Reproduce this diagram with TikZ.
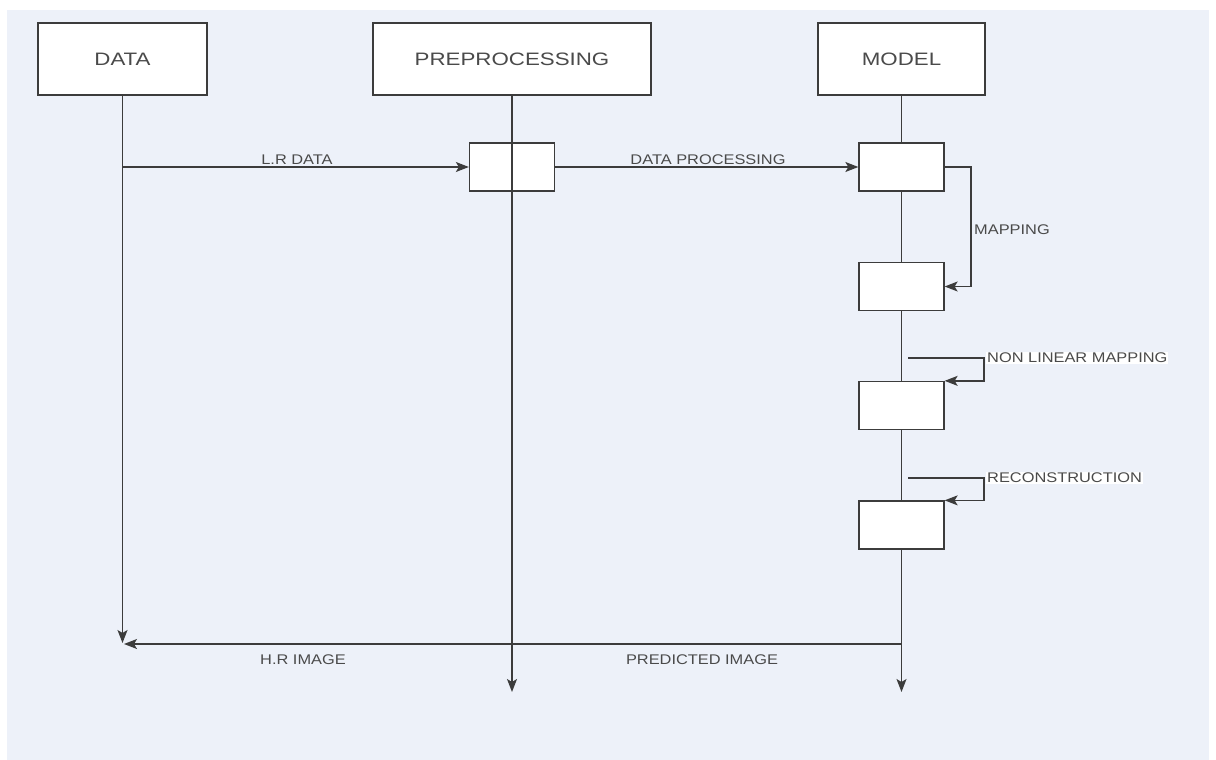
\documentclass[tikz,border=0pt]{standalone}
\usepackage{fontspec}
\setmainfont{Liberation Sans}
\newfontfamily\lblfont[FakeStretch=1.17]{Liberation Sans}
\newfontfamily\boxfont[FakeStretch=1.24]{Liberation Sans}
\usetikzlibrary{arrows.meta}
\definecolor{bgcol}{HTML}{EDF1F9}
\definecolor{linecol}{HTML}{3C3C3C}
\definecolor{txtcol}{HTML}{4A4A4A}
\tikzset{
  head/.style={draw=linecol, line width=1.3pt, fill=white, minimum width=169pt, minimum height=72pt, inner sep=0pt, font=\boxfont\fontsize{18}{20}\selectfont, text=txtcol},
  act/.style={draw=linecol, line width=1.3pt, fill=white, minimum width=85pt, minimum height=48pt, inner sep=0pt},
  conn/.style={draw=linecol, line width=1.3pt},
  arr/.style={conn, -{Stealth[length=13pt,width=10pt,inset=3pt]}},
  lbl/.style={font=\lblfont\fontsize{14}{16}\selectfont, text=txtcol, inner sep=1pt},
}
\begin{document}
\begin{tikzpicture}[x=1pt,y=-1pt]
\useasboundingbox (0,0) rectangle (1216,760);
\fill[white] (0,0) rectangle (1216,760);
\fill[bgcol] (7,10) rectangle (1209,760);

% headers
\node[head] (data) at (122.5,59) {DATA};
\node[head, minimum width=278pt] (pre) at (512,59) {PREPROCESSING};
\node[head, minimum width=167pt] (model) at (901.5,59) {MODEL};

% end points of lifelines
\coordinate (dataEnd) at (122.5,643);
\coordinate (preEnd) at (512,692);
\coordinate (modelEnd) at (901.5,692);

% model lifeline (behind activation boxes)
\draw[arr] (model.south) -- (modelEnd);

% preprocessing activation (lifeline drawn over it)
\node[act] (pbox) at (512,167) {};
\draw[arr] (pre.south) -- (preEnd);

% model activations
\node[act] (m1) at (901.5,167) {};
\node[act] (m2) at (901.5,286.5) {};
\node[act] (m3) at (901.5,405.5) {};
\node[act] (m4) at (901.5,525) {};

% data lifeline
\draw[arr] (data.south) -- (dataEnd);

% messages
\coordinate (lrS) at (122.5,167);
\draw[arr] (lrS) -- (pbox.west);
\node[lbl] (lrL) at (297,160) {L.R DATA};

\draw[arr] (pbox.east) -- (m1.west);
\node[lbl] (dpL) at (708,160) {DATA PROCESSING};

\coordinate (mapC) at (971,167);
\draw[arr] (m1.east) -- (mapC) |- (m2.east);
\node[lbl, anchor=west] (mapL) at (973,230) {MAPPING};

\coordinate (nlS) at (908,358);
\coordinate (nlC) at (984,358);
\draw[arr] (nlS) -- (nlC) |- (m3.north east);
\node[lbl, anchor=west, fill=white] (nlL) at (986,358) {NON LINEAR MAPPING};

\coordinate (reS) at (908,478);
\coordinate (reC) at (984,478);
\draw[arr] (reS) -- (reC) |- (m4.north east);
\node[lbl, anchor=west, fill=white] (reL) at (986,478) {RECONSTRUCTION};

\coordinate (hrS) at (901.5,644);
\coordinate (hrE) at (124,644);
\draw[arr] (hrS) -- (hrE);
\node[lbl] (hrL) at (303,660) {H.R IMAGE};
\node[lbl] (piL) at (702,660) {PREDICTED IMAGE};
\end{tikzpicture}
\end{document}
